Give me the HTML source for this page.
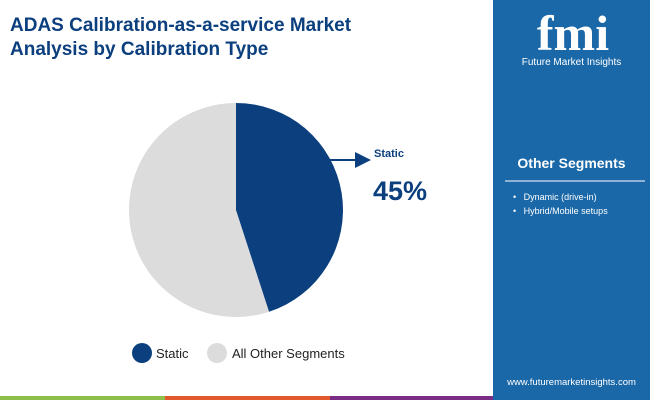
<!DOCTYPE html>
<html><head><meta charset="utf-8"><style>
body{margin:0;width:650px;height:400px;overflow:hidden;background:#fff;font-family:"Liberation Sans",sans-serif;position:relative}
.abs{position:absolute}
</style></head><body>
<div class="abs" style="left:10px;top:14px;font-size:19px;font-weight:bold;color:#0b3f7e;line-height:24px">ADAS Calibration-as-a-service Market<br>Analysis by Calibration Type</div>
<div class="abs" style="left:493px;top:0;width:157px;height:400px;background:#1a68a8">
  <div style="position:absolute;left:25px;top:8px;width:110px;height:50px;color:#fff;font-size:50px;font-weight:bold;font-family:'Liberation Serif',serif;text-align:center;line-height:50px">fmi</div>
  <div style="position:absolute;left:0;width:157px;top:57px;text-align:center;color:#fff;font-size:10px">Future Market Insights</div>
  <div style="position:absolute;left:0;width:157px;top:155px;text-align:center;color:#fff;font-size:14px;font-weight:bold">Other Segments</div>
  <div style="position:absolute;left:12px;width:140px;top:180px;height:2px;background:#8fb3d6"></div>
  <div style="position:absolute;left:20px;top:190px;color:#fff;font-size:9px;line-height:14px">•&nbsp;&nbsp;&nbsp;Dynamic (drive-in)<br>•&nbsp;&nbsp;&nbsp;Hybrid/Mobile setups</div>
  <div style="position:absolute;left:0;width:157px;top:377px;text-align:center;color:#fff;font-size:9.5px">www.futuremarketinsights.com</div>
</div>
<div class="abs" style="left:0;top:396px;width:165px;height:4px;background:#8cc04a"></div>
<div class="abs" style="left:165px;top:396px;width:165px;height:4px;background:#e0582c"></div>
<div class="abs" style="left:330px;top:396px;width:163px;height:4px;background:#7b2d86"></div>
<svg class="abs" style="left:0;top:0" width="493" height="396" id="pie">
  <defs><marker id="ah" markerWidth="8" markerHeight="8" refX="6" refY="4" orient="auto"><path d="M0,0L8,4L0,8z" fill="#0b3f7e"/></marker></defs>
  <line x1="330" y1="160" x2="367" y2="160" stroke="#0b3f7e" stroke-width="2" marker-end="url(#ah)"/>
  <text x="374" y="157" font-size="11" font-weight="bold" fill="#0b3f7e">Static</text>
  <text x="373" y="200" font-size="27" font-weight="bold" fill="#0b3f7e">45%</text>
  <circle cx="142" cy="353" r="10" fill="#0b3f7e"/>
  <text x="156" y="358" font-size="13" fill="#222">Static</text>
  <circle cx="217" cy="353" r="10" fill="#dcdcdc"/>
  <text x="232" y="358" font-size="13" fill="#222">All Other Segments</text>
</svg>
<script>
const categories=["Static","All Other Segments"];
const values=[45,55];
const colors=["#0b3f7e","#dcdcdc"];
const svg=document.getElementById('pie');
const cx=236,cy=210,r=107;
const total=values.reduce((a,b)=>a+b,0);
let a0=0;
values.forEach((v,i)=>{
  const a1=a0+v/total*2*Math.PI;
  const x0=cx+r*Math.sin(a0),y0=cy-r*Math.cos(a0),x1=cx+r*Math.sin(a1),y1=cy-r*Math.cos(a1);
  const p=document.createElementNS('http://www.w3.org/2000/svg','path');
  p.setAttribute('d',`M${cx},${cy}L${x0},${y0}A${r},${r} 0 ${a1-a0>Math.PI?1:0} 1 ${x1},${y1}Z`);
  p.setAttribute('fill',colors[i]);
  
  
  svg.insertBefore(p,svg.firstChild.nextSibling);
  a0=a1;
});
</script>
</body></html>
